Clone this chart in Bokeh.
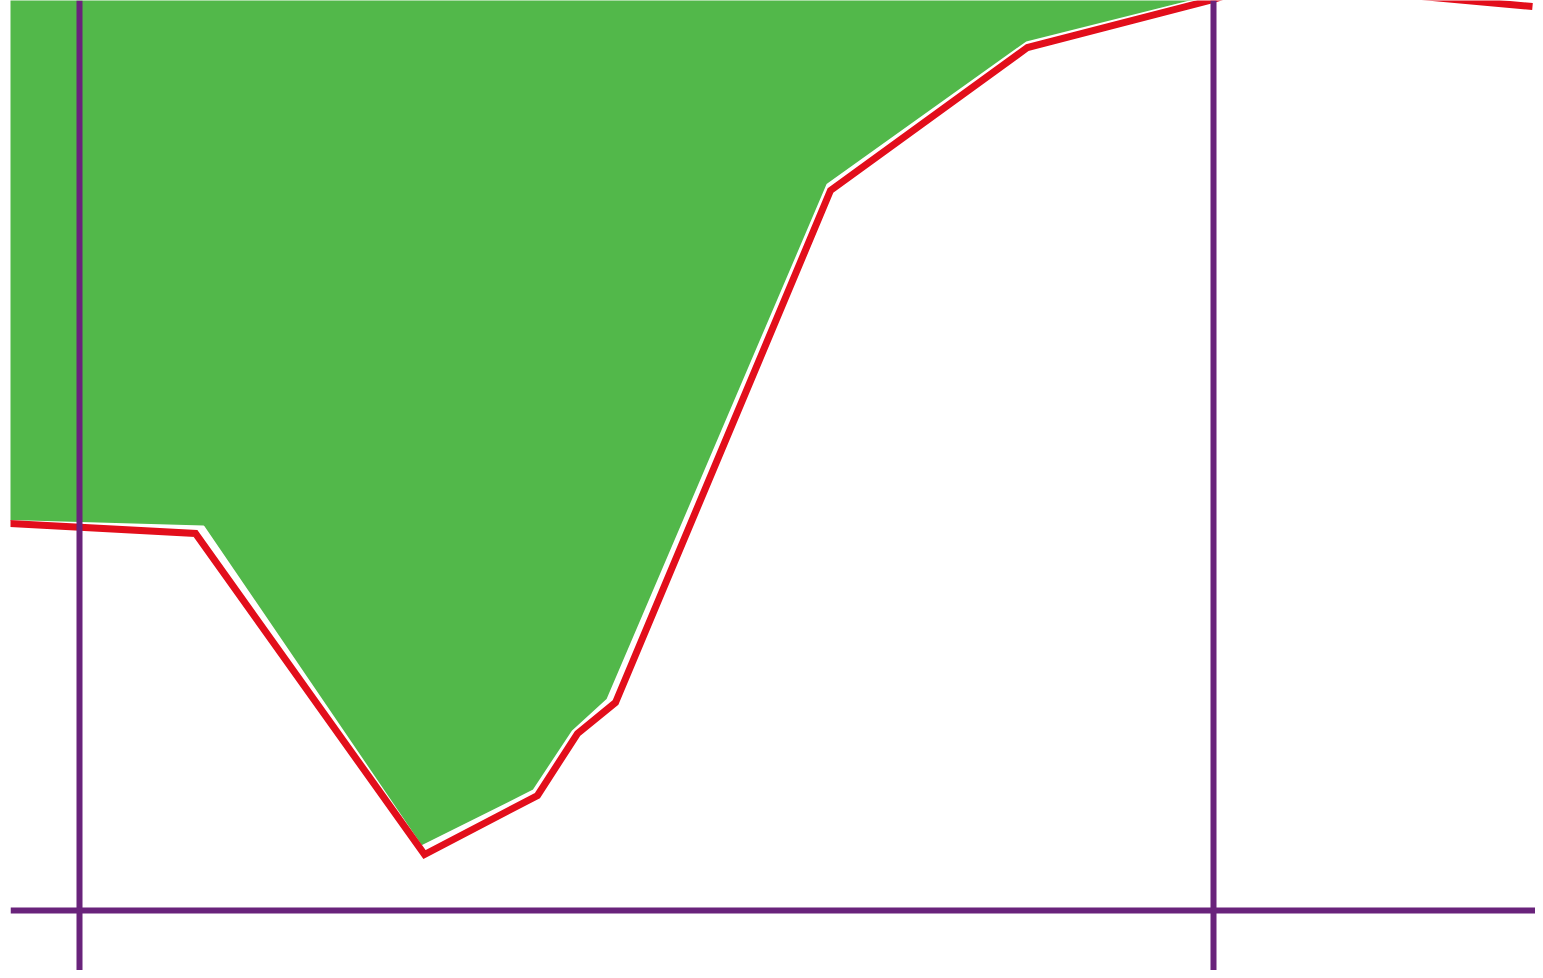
from bokeh.plotting import figure
from bokeh.models import Range1d, Span
from bokeh.embed import file_html
from bokeh.resources import INLINE

# Series
green_x = [-0.20, 1.93, 4.11, 5.23, 5.62, 5.97, 8.17, 10.16, 12.03, 13.20, 15.40]
green_y = [4.50, 4.44, 1.24, 1.80, 2.39, 2.71, 7.86, 9.28, 9.75, 10.30, 10.20]
green_top = 11.0

red_x = [-0.20, 1.85, 4.14, 5.27, 5.67, 6.05, 8.20, 10.17, 12.03, 13.20, 14.00, 15.22]
red_y = [4.48, 4.37, 1.16, 1.75, 2.37, 2.68, 7.80, 9.23, 9.71, 10.10, 9.75, 9.64]

vlines_x = [0.69, 12.03]
hline_y = [0.60]

GREEN = "#52b84a"
RED = "#e20e1b"
PURPLE = "#69237b"

p = figure(width=1535, height=970, output_backend="svg", toolbar_location=None,
           x_range=Range1d(0, 15.25), y_range=Range1d(0, 9.70),
           min_border_left=10, min_border_right=0, min_border_top=0, min_border_bottom=0)
p.xaxis.visible = False
p.yaxis.visible = False
p.xgrid.visible = False
p.ygrid.visible = False
p.outline_line_color = None
p.background_fill_color = "white"
p.border_fill_color = "white"

p.varea(x=green_x, y1=green_y, y2=[green_top] * len(green_x), fill_color=GREEN, fill_alpha=1.0)
p.line(green_x, green_y, line_color="white", line_width=2)
p.line(red_x, red_y, line_color=RED, line_width=7, line_join="miter")

for xv in vlines_x:
    p.add_layout(Span(location=xv, dimension="height", line_color=PURPLE, line_width=6))
for yv in hline_y:
    p.add_layout(Span(location=yv, dimension="width", line_color=PURPLE, line_width=6))

open("out.html", "w").write(file_html(p, INLINE))
